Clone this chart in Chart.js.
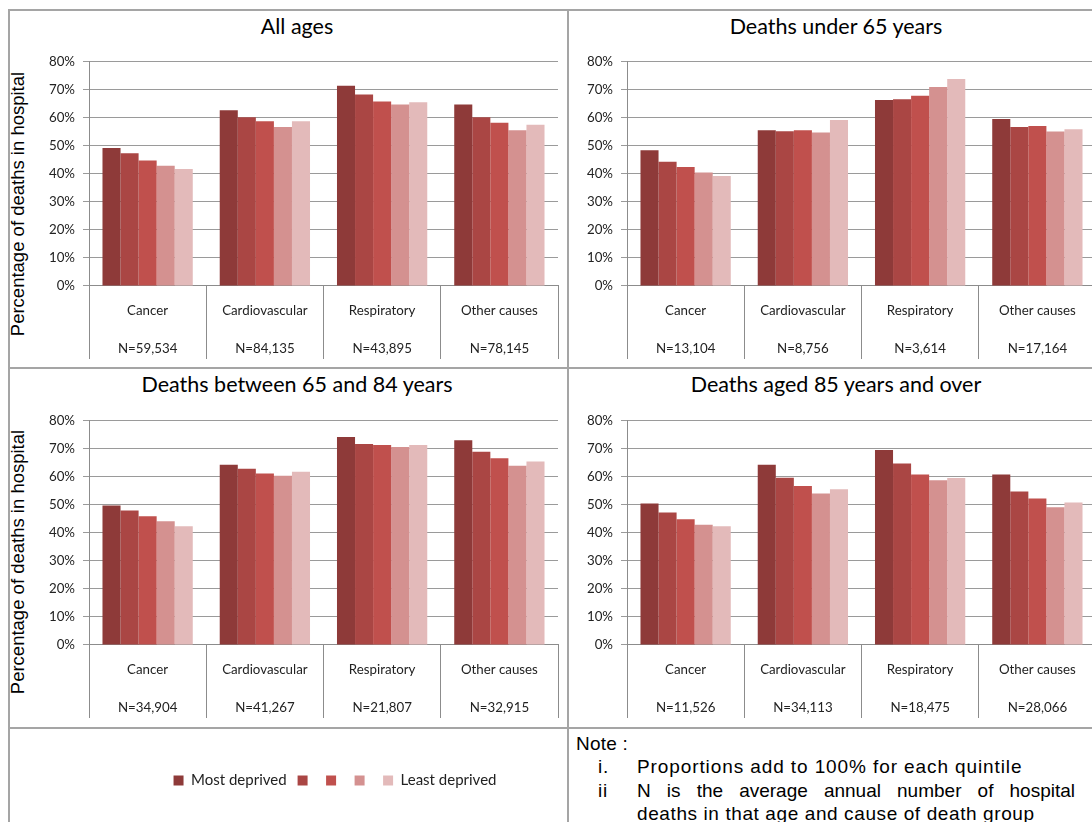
<!DOCTYPE html>
<html>
<head>
<meta charset="utf-8">
<script src="https://cdn.jsdelivr.net/npm/chart.js@4/dist/chart.umd.min.js"></script>
<style>
  body { margin: 0; background: #fff; }
  #page { position: relative; width: 1092px; height: 822px; overflow: hidden; background: #fff; }
  .line { position: absolute; background: #a5a5a5; }
  canvas { position: absolute; }
  .title { position: absolute; width: 500px; text-align: center; font: 21.5px Lato, sans-serif; color: #000; line-height: 26px; white-space: nowrap; }
  .ytitle { position: absolute; width: 320px; height: 22px; line-height: 22px; text-align: center;
            font: 18.5px "Liberation Sans", Arial, sans-serif; color: #000; transform: rotate(-90deg); white-space: nowrap; }
  .note { position: absolute; font: 19px "Liberation Sans", Arial, sans-serif; letter-spacing: 0.9px; color: #000; line-height: 24px; white-space: nowrap; }
  .just { text-align: justify; text-align-last: justify; letter-spacing: 0; }
</style>
</head>
<body>
<div id="page">
  <div class="line" style="left:8px;top:9px;width:1084px;height:2px"></div>
  <div class="line" style="left:8px;top:367px;width:1084px;height:2px"></div>
  <div class="line" style="left:8px;top:727px;width:1084px;height:2px"></div>
  <div class="line" style="left:8px;top:9px;width:2px;height:813px"></div>
  <div class="line" style="left:567px;top:9px;width:2px;height:813px"></div>

  <div class="title" style="left:47px;top:13px">All ages</div>
  <div class="title" style="left:586px;top:13px">Deaths under 65 years</div>
  <div class="title" style="left:47px;top:371px">Deaths between 65 and 84 years</div>
  <div class="title" style="left:586px;top:371px">Deaths aged 85 years and over</div>

  <div class="ytitle" style="left:-142px;top:193px">Percentage of deaths in hospital</div>
  <div class="ytitle" style="left:-142px;top:551px">Percentage of deaths in hospital</div>

  <canvas id="c1" width="520" height="316" style="left:40px;top:46px"></canvas>
  <canvas id="c2" width="520" height="316" style="left:578px;top:46px"></canvas>
  <canvas id="c3" width="520" height="316" style="left:40px;top:405px"></canvas>
  <canvas id="c4" width="520" height="316" style="left:578px;top:405px"></canvas>
  <canvas id="legend" width="472" height="80" style="left:99px;top:762px"></canvas>

  <div class="note" style="left:576px;top:732px;letter-spacing:0.2px">Note :</div>
  <div class="note" style="left:598px;top:755px">i.</div>
  <div class="note" style="left:637px;top:755px">Proportions add to 100% for each quintile</div>
  <div class="note" style="left:598px;top:779px">ii</div>
  <div class="note just" style="left:637px;top:779px;width:438px">N is the average annual number of hospital</div>
  <div class="note" style="left:637px;top:802px;letter-spacing:0.6px">deaths in that age and cause of death group</div>
</div>
<script>
// categories and series
const causes = ['Cancer', 'Cardiovascular', 'Respiratory', 'Other causes'];
const quintiles = ['Most deprived', '', '', '', 'Least deprived'];
const yTicks = [0, 10, 20, 30, 40, 50, 60, 70, 80];

const nAll = ['N=59,534', 'N=84,135', 'N=43,895', 'N=78,145'];
const nUnder65 = ['N=13,104', 'N=8,756', 'N=3,614', 'N=17,164'];
const n65to84 = ['N=34,904', 'N=41,267', 'N=21,807', 'N=32,915'];
const n85plus = ['N=11,526', 'N=34,113', 'N=18,475', 'N=28,066'];

// % of deaths in hospital, one array per deprivation quintile
const allQ1 = [49.3, 62.8, 71.5, 64.8];
const allQ2 = [47.4, 60.3, 68.4, 60.3];
const allQ3 = [44.8, 58.8, 65.9, 58.3];
const allQ4 = [42.9, 56.8, 64.8, 55.6];
const allQ5 = [41.8, 58.8, 65.6, 57.6];

const u65Q1 = [48.5, 55.6, 66.4, 59.6];
const u65Q2 = [44.4, 55.3, 66.7, 56.8];
const u65Q3 = [42.5, 55.6, 67.9, 57.1];
const u65Q4 = [40.5, 54.8, 71.1, 55.2];
const u65Q5 = [39.3, 59.3, 73.9, 56.0];

const mid65Q1 = [49.8, 64.4, 74.3, 73.1];
const mid65Q2 = [48.0, 62.9, 71.8, 69.0];
const mid65Q3 = [46.0, 61.2, 71.4, 66.7];
const mid65Q4 = [44.2, 60.4, 70.7, 64.0];
const mid65Q5 = [42.4, 61.9, 71.4, 65.5];

const o85Q1 = [50.5, 64.4, 69.6, 60.9];
const o85Q2 = [47.3, 59.7, 64.8, 54.8];
const o85Q3 = [44.9, 56.8, 60.9, 52.3];
const o85Q4 = [42.9, 54.1, 58.8, 49.2];
const o85Q5 = [42.4, 55.6, 59.6, 50.9];

const colours = ['#8e3a39', '#aa4644', '#c0504d', '#d49190', '#e3baba'];

Chart.defaults.font.family = 'Lato, sans-serif';
Chart.defaults.color = '#222';

function makeChart(id, nLabels, series) {
  new Chart(document.getElementById(id), {
    type: 'bar',
    data: {
      labels: causes.map((c, i) => [c, nLabels[i]]),
      datasets: series.map((s, i) => ({
        label: quintiles[i],
        data: s,
        backgroundColor: colours[i],
        borderWidth: 0,
        categoryPercentage: 0.77,
        barPercentage: 1
      }))
    },
    options: {
      responsive: false,
      animation: false,
      devicePixelRatio: 1,
      events: [],
      layout: { padding: { top: 12, right: 2, bottom: 3, left: 0 } },
      plugins: { legend: { display: false }, tooltip: { enabled: false } },
      scales: {
        x: {
          grid: { offset: true, drawOnChartArea: false, drawTicks: true, tickLength: 73, color: '#8c8c8c' },
          border: { display: true, color: '#8c8c8c' },
          ticks: { padding: -67, maxRotation: 0, autoSkip: false, font: { size: 13.3, lineHeight: 2.857 }, color: '#222' },
          afterFit: s => { s.height = 73; }
        },
        y: {
          min: 0, max: 80,
          afterBuildTicks: s => { s.ticks = yTicks.map(v => ({ value: v })); },
          grid: { color: '#9a9a9a', drawTicks: true, tickLength: 6 },
          border: { display: true, color: '#8c8c8c' },
          ticks: { padding: 8, font: { size: 13.3 }, color: '#222', callback: v => v + '%' },
          afterFit: s => { s.width = 49; }
        }
      }
    }
  });
}

makeChart('c1', nAll, [allQ1, allQ2, allQ3, allQ4, allQ5]);
makeChart('c2', nUnder65, [u65Q1, u65Q2, u65Q3, u65Q4, u65Q5]);
makeChart('c3', n65to84, [mid65Q1, mid65Q2, mid65Q3, mid65Q4, mid65Q5]);
makeChart('c4', n85plus, [o85Q1, o85Q2, o85Q3, o85Q4, o85Q5]);

// legend only
new Chart(document.getElementById('legend'), {
  type: 'bar',
  data: {
    labels: [],
    datasets: quintiles.map((q, i) => ({ label: q, data: [], backgroundColor: colours[i] }))
  },
  options: {
    responsive: false,
    animation: false,
    devicePixelRatio: 1,
    events: [],
    layout: { padding: 0 },
    scales: { x: { display: false }, y: { display: false } },
    plugins: {
      tooltip: { enabled: false },
      legend: {
        position: 'top',
        labels: { boxWidth: 10, boxHeight: 10, padding: 11, color: '#222', font: { size: 15 } }
      }
    }
  }
});
</script>
</body>
</html>
